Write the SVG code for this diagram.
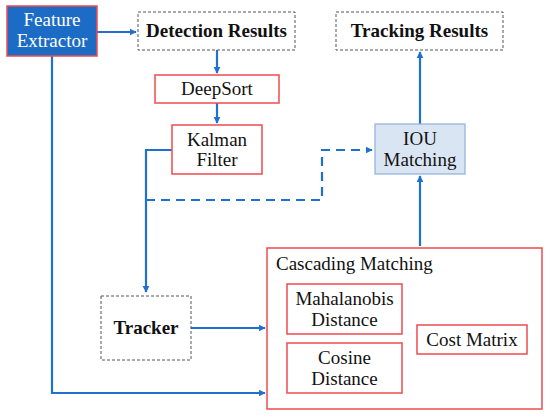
<svg xmlns="http://www.w3.org/2000/svg" width="550" height="419" viewBox="0 0 550 419">
<defs>
<marker id="ah" viewBox="0 0 10 10" refX="9" refY="5" markerWidth="3.2" markerHeight="3.2" orient="auto" markerUnits="strokeWidth"><path d="M0,0 L10,5 L0,10 z" fill="#1f70d0"/></marker>
</defs>
<style>
text{font-family:'Liberation Serif','DejaVu Serif',serif;font-size:19px;fill:#111;text-anchor:middle}
.b{font-weight:bold}
.red{fill:#fff;stroke:#f04a4f;stroke-width:1.5}
.dash{fill:#fff;stroke:#555;stroke-width:1;stroke-dasharray:3,2}
.c{fill:none;stroke:#1f70d0;stroke-width:2.2}
</style>
<rect width="550" height="419" fill="#fff"/>
<g id="connectors">
<path class="c" d="M97,32 H136" marker-end="url(#ah)"/>
<path class="c" d="M217,50 V73" marker-end="url(#ah)"/>
<path class="c" d="M217,103 V123" marker-end="url(#ah)"/>
<path class="c" d="M172,150 H146 V292" marker-end="url(#ah)"/>
<path class="c" d="M146,200 H322 V150 H372" stroke-dasharray="9,6" marker-end="url(#ah)"/>
<path class="c" d="M420,124 V52" marker-end="url(#ah)"/>
<path class="c" d="M420,246 V176" marker-end="url(#ah)"/>
<path class="c" d="M191,328 H265" marker-end="url(#ah)"/>
<path class="c" d="M52,56 V393 H265" marker-end="url(#ah)"/>
</g>
<g id="feature-extractor">
<rect x="7" y="6" width="90" height="50" fill="#1c6cc6" stroke="#f04a4f" stroke-width="1.5"/>
<text x="52" y="26" style="fill:#fff">Feature</text>
<text x="52" y="47" style="fill:#fff">Extractor</text>
</g>
<g id="detection-results">
<rect class="dash" x="138" y="12" width="157" height="38"/>
<text class="b" x="216.5" y="37">Detection Results</text>
</g>
<g id="deepsort">
<rect class="red" x="155" y="75" width="124" height="28"/>
<text x="217" y="95">DeepSort</text>
</g>
<g id="kalman-filter">
<rect class="red" x="172" y="125" width="90" height="49"/>
<text x="217" y="146">Kalman</text>
<text x="217" y="166">Filter</text>
</g>
<g id="tracking-results">
<rect class="dash" x="336" y="12" width="167" height="38"/>
<text class="b" x="419.5" y="37">Tracking Results</text>
</g>
<g id="iou-matching">
<rect x="375" y="124" width="90" height="50" fill="#dae5f3" stroke="#90b0da" stroke-width="1.2"/>
<text x="420" y="145">IOU</text>
<text x="420" y="166">Matching</text>
</g>
<g id="tracker">
<rect class="dash" x="101" y="296" width="90" height="64"/>
<text class="b" x="146" y="334">Tracker</text>
</g>
<g id="cascading-matching">
<rect class="red" x="267" y="248" width="275" height="161"/>
<text x="276" y="270" style="text-anchor:start">Cascading Matching</text>
</g>
<g id="mahalanobis-distance">
<rect class="red" x="287" y="284" width="115" height="50"/>
<text x="344.5" y="305">Mahalanobis</text>
<text x="344.5" y="326">Distance</text>
</g>
<g id="cosine-distance">
<rect class="red" x="287" y="343" width="115" height="50"/>
<text x="344.5" y="364">Cosine</text>
<text x="344.5" y="385">Distance</text>
</g>
<g id="cost-matrix">
<rect class="red" x="417" y="325" width="110" height="29"/>
<text x="472" y="346">Cost Matrix</text>
</g>
</svg>
